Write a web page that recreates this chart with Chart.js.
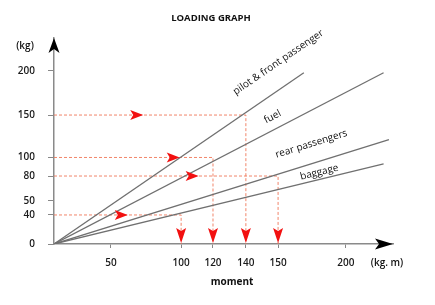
<!DOCTYPE html>
<html>
<head>
<meta charset="utf-8">
<script src="https://cdn.jsdelivr.net/npm/chart.js@4.4.0/dist/chart.umd.min.js"></script>
<style>
    html, body { margin: 0; padding: 0; background: #fff; }
    #wrap { width: 435px; height: 305px; }
</style>
</head>
<body>
<div id="wrap"><canvas id="loadingChart" width="435" height="305"></canvas></div>
<script>
// 그림에서 읽은 값
const weightTicks = [0, 40, 50, 80, 100, 150, 200];
const momentTicks = [50, 100, 120, 140, 150, 200];
const seriesNames = ['pilot & front passenger', 'fuel', 'rear passengers', 'baggage'];
const endMoment = [169, 228, 232, 228];
const endWeight = [198, 198, 121, 93];
const exampleWeight = [150, 100, 80, 40];
const exampleMoment = [140, 120, 150, 100];
const arrowMoment = [73, 99, 111, 62];

// 손으로 그린 축: 눈금 간격이 고르지 않음
const axisStops = {
    x: { values: [0, 50, 100, 120, 140, 150, 200, 235], decimals: [0, 0.168, 0.375, 0.469, 0.566, 0.661, 0.861, 1] },
    y: { values: [0, 40, 50, 80, 100, 150, 200, 237], decimals: [0, 0.141, 0.209, 0.330, 0.420, 0.626, 0.840, 1] }
};

function lookup(from, to, v) {
    if (v <= from[0]) return to[0];
    for (let i = 0; i < from.length - 1; i++) {
        if (v <= from[i + 1]) {
            const t = (v - from[i]) / (from[i + 1] - from[i]);
            return to[i] + t * (to[i + 1] - to[i]);
        }
    }
    return to[to.length - 1];
}

class PiecewiseScale extends Chart.LinearScale {
    getPixelForValue(value) {
        const s = axisStops[this.axis];
        return this.getPixelForDecimal(lookup(s.values, s.decimals, value));
    }
    getValueForPixel(pixel) {
        const s = axisStops[this.axis];
        return lookup(s.decimals, s.values, this.getDecimalForPixel(pixel));
    }
}
PiecewiseScale.id = 'piecewise';
PiecewiseScale.defaults = Chart.LinearScale.defaults;
Chart.register(PiecewiseScale);

// 선 위 글자 위치 (선 길이 비율, 수직 거리)
const labelPlace = [
    { frac: 0.95, off: 23 },
    { frac: 0.68, off: 12 },
    { frac: 0.785, off: 19 },
    { frac: 0.81, off: 7 }
];

function dart(ctx, tx, ty, angle, len, half, notch, color) {
    ctx.save();
    ctx.translate(tx, ty);
    ctx.rotate(angle);
    ctx.beginPath();
    ctx.moveTo(0, 0);
    ctx.lineTo(-len, -half);
    ctx.lineTo(-len + notch, 0);
    ctx.lineTo(-len, half);
    ctx.closePath();
    ctx.fillStyle = color;
    ctx.fill();
    ctx.restore();
}

const annotate = {
    id: 'annotate',
    afterDatasetsDraw(chart) {
        const { ctx, chartArea } = chart;
        const x = chart.scales.x, y = chart.scales.y;

        // 빨간 화살표
        exampleWeight.forEach((w, i) => {
            dart(ctx, x.getPixelForValue(arrowMoment[i]), y.getPixelForValue(w), 0, 13, 5, 3, '#f21010');
            dart(ctx, x.getPixelForValue(exampleMoment[i]), y.getPixelForValue(0) - 1, Math.PI / 2, 15, 5, 3, '#f21010');
        });

        // 축 화살표
        dart(ctx, chartArea.right, y.getPixelForValue(0), 0, 18, 5.5, 4, '#000');
        dart(ctx, x.getPixelForValue(0), chartArea.top, -Math.PI / 2, 15, 5.5, 4, '#000');

        ctx.save();
        ctx.fillStyle = '#111';
        ctx.textAlign = 'center';
        ctx.textBaseline = 'middle';

        // 선 이름
        ctx.font = '10px "Open Sans"';
        seriesNames.forEach((name, i) => {
            const x0 = x.getPixelForValue(0), y0 = y.getPixelForValue(0);
            const x1 = x.getPixelForValue(endMoment[i]), y1 = y.getPixelForValue(endWeight[i]);
            const ang = Math.atan2(y1 - y0, x1 - x0);
            const p = labelPlace[i];
            const cx = x0 + (x1 - x0) * p.frac + Math.sin(ang) * p.off;
            const cy = y0 + (y1 - y0) * p.frac - Math.cos(ang) * p.off;
            ctx.save();
            ctx.translate(cx, cy);
            ctx.rotate(ang);
            ctx.fillText(name, 0, 0);
            ctx.restore();
        });

        ctx.font = 'bold 9.5px "Open Sans"';
        ctx.fillText('LOADING GRAPH', 211, 18);
        ctx.font = 'bold 10px "Open Sans"';
        ctx.fillText('moment', 232, 282);
        ctx.font = '600 10px "Open Sans"';
        ctx.fillText('(kg)', 25, 46);
        ctx.fillText('(kg. m)', 387, 263);
        ctx.restore();
    }
};

const tickFont = { family: 'Open Sans', size: 10, weight: '600' };

const datasets = [];
seriesNames.forEach((name, i) => {
    datasets.push({
        label: name,
        data: [{ x: 0, y: 0 }, { x: endMoment[i], y: endWeight[i] }],
        showLine: true,
        borderColor: '#707070',
        borderWidth: 1.3,
        pointRadius: 0
    });
});
exampleWeight.forEach((w, i) => {
    datasets.push({
        label: 'example ' + w,
        data: [{ x: 0, y: w }, { x: exampleMoment[i], y: w }, { x: exampleMoment[i], y: 0 }],
        showLine: true,
        borderColor: 'rgba(240, 120, 90, 0.9)',
        borderDash: [3, 2],
        borderWidth: 1,
        pointRadius: 0
    });
});

new Chart(document.getElementById('loadingChart'), {
    type: 'scatter',
    data: { datasets: datasets },
    options: {
        responsive: false,
        animation: false,
        layout: { padding: { top: 38, right: 42, left: 0, bottom: 0 } },
        plugins: {
            legend: { display: false },
            tooltip: { enabled: false },
            title: { display: false }
        },
        scales: {
            x: {
                type: 'piecewise',
                min: 0,
                max: 235,
                afterBuildTicks: s => { s.ticks = momentTicks.map(v => ({ value: v })); },
                afterFit: s => { s.height = 61; },
                grid: { drawOnChartArea: false, drawTicks: true, tickLength: 4, color: '#888' },
                border: { display: true, color: '#8a8a8a', width: 1.5 },
                ticks: { padding: 9, font: tickFont, color: '#1a1a1a', callback: v => String(v) }
            },
            y: {
                type: 'piecewise',
                min: 0,
                max: 237,
                afterBuildTicks: s => { s.ticks = weightTicks.map(v => ({ value: v })); },
                afterFit: s => { s.width = 54; },
                grid: { drawOnChartArea: false, drawTicks: true, tickLength: 6, color: '#888' },
                border: { display: true, color: '#8a8a8a', width: 1.5 },
                ticks: { padding: 13, font: tickFont, color: '#1a1a1a', callback: v => String(v) }
            }
        }
    },
    plugins: [annotate]
});
</script>
</body>
</html>
